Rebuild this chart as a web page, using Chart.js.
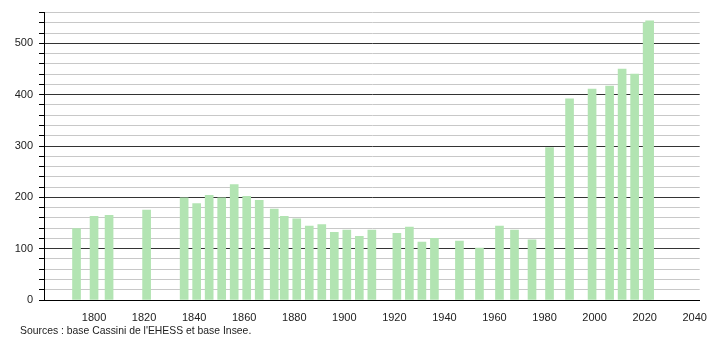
<!DOCTYPE html>
<html>
<head>
<meta charset="utf-8">
<script src="https://cdn.jsdelivr.net/npm/chart.js@4/dist/chart.umd.min.js"></script>
<style>
  html, body { margin: 0; padding: 0; background: #fff; }
  #wrap { position: relative; width: 710px; height: 340px; }
  #source {
    position: absolute; left: 20px; top: 325px;
    font: 10.4px "Liberation Sans", Arial, sans-serif; color: #222;
  }
</style>
</head>
<body>
<div id="wrap">
  <canvas id="popChart" width="710" height="340"></canvas>
  <div id="source">Sources : base Cassini de l'EHESS et base Insee.</div>
</div>
<script>
// Census years and population
const years = [1793, 1800, 1806, 1821, 1836, 1841, 1846, 1851, 1856, 1861, 1866, 1872, 1876,
               1881, 1886, 1891, 1896, 1901, 1906, 1911, 1921, 1926, 1931, 1936, 1946, 1954,
               1962, 1968, 1975, 1982, 1990, 1999, 2006, 2011, 2016, 2021, 2022];
const population = [139, 163, 165, 175, 199, 188, 204, 199, 225, 202, 194, 177, 163,
                    158, 144, 147, 132, 136, 124, 136, 130, 142, 113, 120, 115, 101,
                    144, 136, 117, 297, 392, 411, 417, 450, 440, 540, 544];

// Axis ticks
const xTickLabels = [1800, 1820, 1840, 1860, 1880, 1900, 1920, 1940, 1960, 1980, 2000, 2020, 2040];
const yTickLabels = [0, 100, 200, 300, 400, 500];

const points = years.map((y, i) => ({ x: y, y: population[i] }));
const font = { family: '"Liberation Sans", Arial, sans-serif', size: 11 };

new Chart(document.getElementById('popChart').getContext('2d'), {
    type: 'bar',
    data: {
        datasets: [{
            data: points,
            backgroundColor: 'rgb(178, 228, 178)',
            borderWidth: 0,
            barThickness: 8
        }]
    },
    options: {
        responsive: false,
        animation: false,
        layout: { padding: { top: 8, right: 10, left: 0, bottom: 0 } },
        plugins: {
            legend: { display: false },
            tooltip: { enabled: false }
        },
        scales: {
            x: {
                type: 'linear',
                offset: false,
                min: 1780,
                max: 2042,
                afterFit: s => { s.height = 40; },
                afterBuildTicks: s => { s.ticks = xTickLabels.map(v => ({ value: v })); },
                grid: { display: false },
                border: { display: true, color: '#000', width: 1 },
                ticks: {
                    autoSkip: false,
                    maxRotation: 0,
                    padding: 3,
                    color: '#222',
                    font: font,
                    callback: v => String(v)
                }
            },
            y: {
                min: 0,
                max: 560,
                afterFit: s => { s.width = 44; },
                ticks: {
                    stepSize: 20,
                    autoSkip: false,
                    padding: 6,
                    color: '#222',
                    font: font,
                    callback: v => yTickLabels.includes(v) ? String(v) : ''
                },
                grid: {
                    color: ctx => (ctx.tick && ctx.tick.value % 100 === 0) ? '#333' : '#c8c8c8',
                    tickColor: '#000',
                    tickLength: 5,
                    lineWidth: 1
                },
                border: { display: true, color: '#000', width: 1 }
            }
        }
    }
});
</script>
</body>
</html>
